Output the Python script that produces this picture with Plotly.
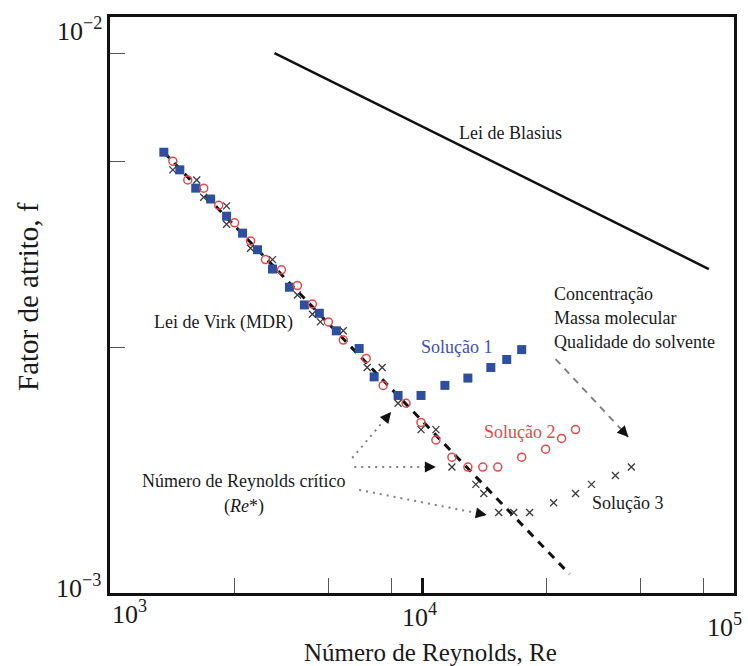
import math
import plotly.graph_objects as go

# ---------------- data ----------------
re_sol1 = [1488, 1674, 1883, 2102, 2364, 2660, 2971, 3318, 3759, 4198, 4688, 5312,
           6290, 7024, 8381, 9927, 11840, 14030, 16620, 18690, 20870]
f_sol1 = [5.18e-3, 4.85e-3, 4.53e-3, 4.35e-3, 4.08e-3, 3.83e-3, 3.60e-3, 3.35e-3,
          3.13e-3, 2.93e-3, 2.84e-3, 2.66e-3, 2.49e-3, 2.24e-3, 2.09e-3, 2.09e-3,
          2.17e-3, 2.23e-3, 2.32e-3, 2.39e-3, 2.48e-3]

re_sol2 = [1590, 1775, 1997, 2230, 2508, 2822, 3150, 3544, 3988, 4453, 5010, 5593,
           6624, 7506, 8890, 9927, 11080, 12470, 14030, 15660, 17490, 20870, 24900,
           28020, 31050]
f_sol2 = [5.01e-3, 4.67e-3, 4.53e-3, 4.25e-3, 3.98e-3, 3.72e-3, 3.47e-3, 3.34e-3,
          3.15e-3, 2.94e-3, 2.75e-3, 2.57e-3, 2.40e-3, 2.17e-3, 2.03e-3, 1.89e-3,
          1.77e-3, 1.66e-3, 1.60e-3, 1.60e-3, 1.60e-3, 1.66e-3, 1.71e-3, 1.78e-3,
          1.84e-3]

re_sol3 = [1590, 1897, 1997, 2364, 2364, 2822, 3318, 3988, 4453, 4722, 5593, 6673,
           7451, 8381, 9927, 11080, 12470, 14880, 15780, 17620, 19680, 22130, 26420,
           31050, 34930, 41680, 46880]
f_sol3 = [4.85e-3, 4.67e-3, 4.38e-3, 4.24e-3, 3.96e-3, 3.62e-3, 3.47e-3, 3.04e-3,
          2.83e-3, 2.75e-3, 2.66e-3, 2.32e-3, 2.32e-3, 2.03e-3, 1.84e-3, 1.84e-3,
          1.60e-3, 1.50e-3, 1.45e-3, 1.35e-3, 1.35e-3, 1.35e-3, 1.40e-3, 1.45e-3,
          1.50e-3, 1.55e-3, 1.60e-3]

blasius_re = [3367, 83050]
blasius_f = [7.50e-3, 3.35e-3]

virk_re = [1488, 29710]
virk_f = [5.18e-3, 1.073e-3]

# dotted arrows from "Número de Reynolds crítico"
crit_re_start = [5975, 6064, 6290]
crit_f_start = [1.655e-3, 1.600e-3, 1.469e-3]
crit_re_end = [7962, 11080, 16130]
crit_f_end = [1.965e-3, 1.600e-3, 1.338e-3]

# dashed trend arrow (concentração, massa molecular, ...)
trend_re = [26800, 45850]
trend_f = [2.394e-3, 1.790e-3]

x_minor_ticks = [2500, 5000, 8000, 25000, 50000, 80000]
x_major_ticks = [10000]
y_minor_ticks = [2.5e-3, 5e-3, 7.5e-3]
y_top = 8.58e-3

# ---------------- figure ----------------
SERIF = "Liberation Serif"
TXT = "#1a1a1a"
BLUE = "#2e4f9e"
RED = "#e5484b"

fig = go.Figure()

fig.add_trace(go.Scatter(x=blasius_re, y=blasius_f, mode="lines",
                         line=dict(color="#111111", width=2.5)))
fig.add_trace(go.Scatter(x=virk_re, y=virk_f, mode="lines",
                         line=dict(color="#111111", width=3, dash="8px,7px")))

for i in range(3):
    fig.add_trace(go.Scatter(x=[crit_re_start[i], crit_re_end[i]],
                             y=[crit_f_start[i], crit_f_end[i]], mode="lines",
                             line=dict(color="#808080", width=2, dash="2px,5px")))
fig.add_trace(go.Scatter(x=trend_re, y=trend_f, mode="lines",
                         line=dict(color="#808080", width=2, dash="7px,6px")))

fig.add_trace(go.Scatter(x=re_sol1, y=f_sol1, mode="markers",
                         marker=dict(symbol="square", size=9, color=BLUE,
                                     line=dict(width=0))))
fig.add_trace(go.Scatter(x=re_sol2, y=f_sol2, mode="markers",
                         marker=dict(symbol="circle-open", size=8, color=RED,
                                     line=dict(width=1.5))))
fig.add_trace(go.Scatter(x=re_sol3, y=f_sol3, mode="markers",
                         marker=dict(symbol="x-thin", size=7,
                                     line=dict(width=1.3, color="#3a3a3a"))))

L, T, W, H = 110, 17, 624, 576


def px(x):
    return (x - L) / W


def py(y):
    return (T + H - y) / H


ann = []


def label(text, x, y, size=18, color=TXT, xanchor="center", angle=0):
    ann.append(dict(text=text, x=px(x), y=py(y), xref="paper", yref="paper",
                    xanchor=xanchor, yanchor="middle", showarrow=False,
                    textangle=angle, font=dict(family=SERIF, size=size, color=color)))


# tick labels
label("10<sup>−2</sup>", 55, 30, size=26, xanchor="left")
label("10<sup>−3</sup>", 54, 586, size=26, xanchor="left")
label("10<sup>3</sup>", 110, 612, size=26, xanchor="left")
label("10<sup>4</sup>", 400, 615, size=26, xanchor="left")
label("10<sup>5</sup>", 705, 625, size=26, xanchor="left")

# axis titles
label("Número de Reynolds, Re", 430, 652, size=25)
label("Fator de atrito, f", 28, 297, size=29, angle=-90)

# in-plot labels
label("Lei de Blasius", 510, 133)
label("Lei de Virk (MDR)", 152, 322, xanchor="left")
label("Solução 1", 457, 347, color="#3f4fb0")
label("Solução 2", 520, 432, color=RED)
label("Solução 3", 590, 503, xanchor="left")
label("Concentração", 552, 294, xanchor="left")
label("Massa molecular", 552, 318, xanchor="left")
label("Qualidade do solvente", 552, 342, xanchor="left")
label("Número de Reynolds crítico", 243, 481)
label("(<i>Re</i>*)", 244, 506)

# arrowheads
heads = [(crit_re_end[0], crit_f_end[0], -5, 6),
         (crit_re_end[1], crit_f_end[1], -8, 0),
         (crit_re_end[2], crit_f_end[2], -8, -1.5),
         (trend_re[1], trend_f[1], -5.5, -5.8)]
for xr, yf, ax, ay in heads:
    ann.append(dict(x=math.log10(xr), y=math.log10(yf), xref="x", yref="y",
                    ax=ax, ay=ay, text="", showarrow=True, arrowhead=2,
                    arrowsize=1.1, arrowwidth=2, arrowcolor="#111111", standoff=0))

axis_common = dict(type="log", showline=True, linewidth=3, linecolor="#111111",
                   mirror=True, showgrid=False, zeroline=False, showticklabels=False)

fig.update_layout(
    width=748, height=666,
    margin=dict(l=L, r=748 - L - W, t=T, b=666 - T - H),
    plot_bgcolor="white", paper_bgcolor="white",
    showlegend=False,
    xaxis=dict(range=[3, 5], ticks="inside", tickvals=x_major_ticks, ticklen=15,
               tickwidth=2.5, tickcolor="#111111",
               minor=dict(tickmode="array", tickvals=x_minor_ticks, ticks="inside",
                          ticklen=15, tickwidth=1.2, tickcolor="#555555",
                          showgrid=False),
               **axis_common),
    yaxis=dict(range=[-3, math.log10(y_top)], ticks="inside", tickvals=y_minor_ticks,
               ticklen=15, tickwidth=1.2, tickcolor="#555555", **axis_common),
    annotations=ann,
)

fig.write_html("out.html")
